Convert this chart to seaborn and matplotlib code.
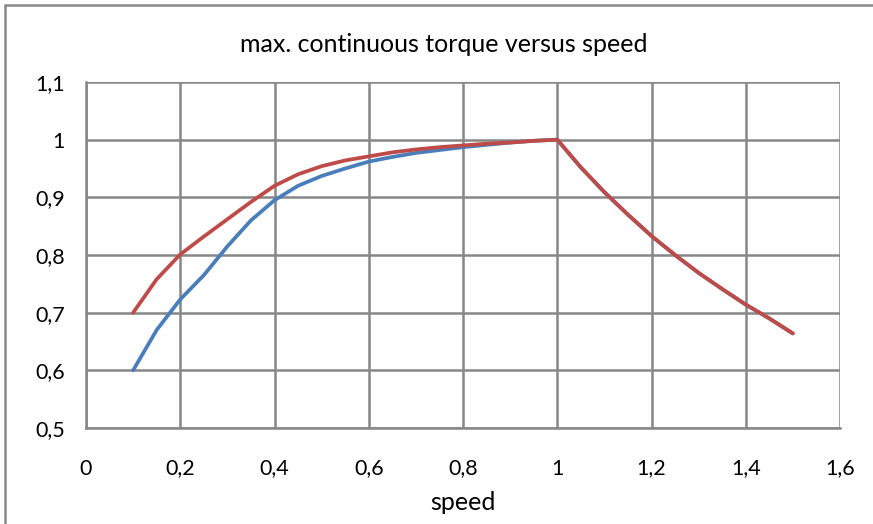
import matplotlib
matplotlib.use("Agg")
import matplotlib.pyplot as plt
import matplotlib.patches as mpatches
import seaborn as sns
import pandas as pd

# speed (per unit) and max. continuous torque (per unit)
speed = [0.1, 0.15, 0.2, 0.25, 0.3, 0.35, 0.4, 0.45, 0.5, 0.55, 0.6, 0.65,
         0.7, 0.75, 0.8, 0.85, 0.9, 0.95, 1.0, 1.05, 1.1, 1.15, 1.2, 1.25,
         1.3, 1.35, 1.4, 1.45, 1.5]
torque_blue = [0.600, 0.670, 0.723, 0.765, 0.815, 0.860, 0.895, 0.920, 0.937,
               0.950, 0.962, 0.970, 0.977, 0.982, 0.987, 0.991, 0.995, 0.998,
               1.000, 0.952, 0.909, 0.870, 0.833, 0.800, 0.769, 0.741, 0.714,
               0.690, 0.664]
torque_red = [0.700, 0.758, 0.801, 0.832, 0.862, 0.892, 0.920, 0.940, 0.954,
              0.964, 0.971, 0.978, 0.983, 0.987, 0.990, 0.993, 0.995, 0.998,
              1.000, 0.952, 0.909, 0.870, 0.833, 0.800, 0.769, 0.741, 0.714,
              0.690, 0.664]

x_ticks = [0, 0.2, 0.4, 0.6, 0.8, 1.0, 1.2, 1.4, 1.6]
x_tick_labels = ["0", "0,2", "0,4", "0,6", "0,8", "1", "1,2", "1,4", "1,6"]
y_ticks = [0.5, 0.6, 0.7, 0.8, 0.9, 1.0, 1.1]
y_tick_labels = ["0,5", "0,6", "0,7", "0,8", "0,9", "1", "1,1"]

df = pd.DataFrame({"speed": speed, "blue": torque_blue, "red": torque_red})

sns.set_theme(style="white")
plt.rcParams["font.family"] = ["Lato", "DejaVu Sans"]

fig = plt.figure(figsize=(8.73, 5.24), dpi=100)
ax = fig.add_axes([86 / 873, 1 - 428 / 524, (840 - 86) / 873, (428 - 82) / 524])

grid_c = "#878787"
sns.lineplot(data=df, x="speed", y="blue", ax=ax, color="#4A7EBB", linewidth=2.7,
             sort=False, estimator=None)
sns.lineplot(data=df, x="speed", y="red", ax=ax, color="#BE4B48", linewidth=2.7,
             sort=False, estimator=None)

ax.set_xlim(0, 1.6)
ax.set_ylim(0.5, 1.1)
ax.set_xticks(x_ticks)
ax.set_xticklabels(x_tick_labels)
ax.set_yticks(y_ticks)
ax.set_yticklabels(y_tick_labels)
ax.grid(True, color=grid_c, linewidth=1.8)
ax.set_axisbelow(True)
for side in ["top", "right"]:
    ax.spines[side].set_visible(False)
for side in ["left", "bottom"]:
    ax.spines[side].set_color(grid_c)
    ax.spines[side].set_linewidth(1.8)
ax.tick_params(axis="both", which="major", length=6, width=1.8, color=grid_c,
               labelsize=15.5, labelcolor="black", direction="out")
ax.tick_params(axis="y", pad=9)
ax.tick_params(axis="x", pad=16)
ax.set_xlabel("speed", fontsize=18, color="black", labelpad=9)
ax.set_ylabel("")

# chart title, centred over the chart area
fig.text(444 / 873, 1 - 45 / 524, "max. continuous torque versus speed",
         fontsize=18, color="black", ha="center", va="center")

# outer chart frame
frame = mpatches.Rectangle((5 / 873, -0.1), 1.2, 1 - 5 / 524 + 0.1,
                           transform=fig.transFigure, fill=False,
                           edgecolor="#888888", linewidth=1.8, clip_on=False)
fig.patches.append(frame)

fig.savefig("out.png", dpi=100)
